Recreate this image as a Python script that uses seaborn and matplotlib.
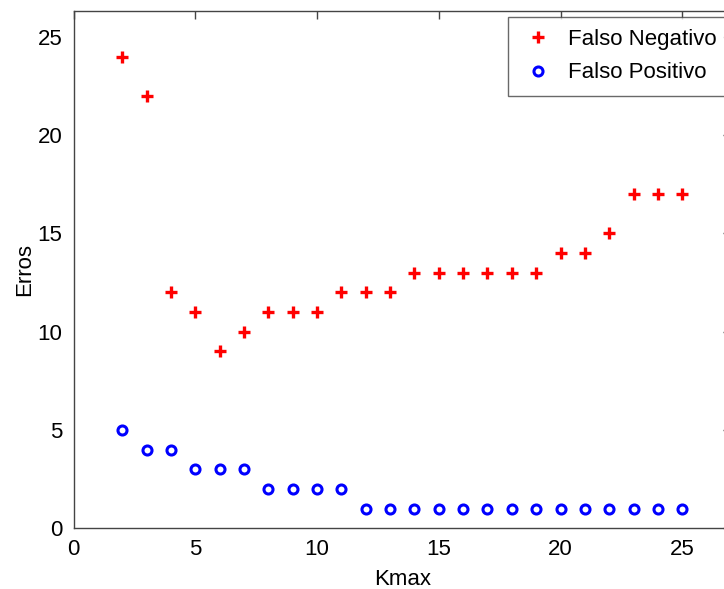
import numpy as np
import pandas as pd
import seaborn as sns
import matplotlib
matplotlib.use("Agg")
import matplotlib.pyplot as plt

# Values
kmax = list(range(2, 26))
falso_negativo = [24, 22, 12, 11, 9, 10, 11, 11, 11, 12, 12, 12,
                  13, 13, 13, 13, 13, 13, 14, 14, 15, 17, 17, 17]
falso_positivo = [5, 4, 4, 3, 3, 3, 2, 2, 2, 2, 1, 1,
                  1, 1, 1, 1, 1, 1, 1, 1, 1, 1, 1, 1]

df = pd.DataFrame({"Kmax": kmax, "FN": falso_negativo, "FP": falso_positivo})

sns.set_style("white")
plt.rcParams["font.family"] = ["Liberation Sans", "DejaVu Sans"]
plt.rcParams["font.size"] = 16
plt.rcParams["text.color"] = "black"
plt.rcParams["axes.labelcolor"] = "black"

W, H = 724, 589
fig = plt.figure(figsize=(W / 100, H / 100), dpi=100)
# MATLAB-like axes box, right edge runs past the (cropped) image
x0, x1, ytop, ybot = 73.5, 731.0, 10.7, 528.3
ax = fig.add_axes([x0 / W, (H - ybot) / H, (x1 - x0) / W, (ybot - ytop) / H])

sns.lineplot(data=df, x="Kmax", y="FN", ax=ax, linestyle="", marker="+",
             markersize=8, markeredgewidth=2.4, color="red",
             markeredgecolor="red", label="Falso Negativo")
sns.lineplot(data=df, x="Kmax", y="FP", ax=ax, linestyle="", marker="o",
             markersize=6.5, markeredgewidth=2.2, markerfacecolor="none",
             markeredgecolor="blue", color="blue", label="Falso Positivo")

ax.set_xlim(0, 27)
ax.set_ylim(0, 26.33)
ax.set_xticks([0, 5, 10, 15, 20, 25])
ax.set_yticks([0, 5, 10, 15, 20, 25])
ax.tick_params(direction="in", length=6, width=1, colors="#444444",
               labelcolor="black", labelsize=16, top=True, right=True, pad=8)
for s in ax.spines.values():
    s.set_color("#444444")
    s.set_linewidth(1)

ax.set_xlabel("Kmax", fontsize=16, labelpad=6)
ax.set_ylabel("Erros", fontsize=16, labelpad=2)

# legend box top-left at about (508, 17) px
lx = (508 - x0) / (x1 - x0)
ly = (ybot - 17) / (ybot - ytop)
leg = ax.legend(loc="upper left", bbox_to_anchor=(lx, ly), frameon=True,
                fancybox=False, fontsize=16, handlelength=1.6,
                handletextpad=0.55, borderpad=0.55, labelspacing=0.55,
                borderaxespad=0)
leg.get_frame().set_edgecolor("#444444")
leg.get_frame().set_linewidth(1)

fig.savefig("out.png", dpi=100)
